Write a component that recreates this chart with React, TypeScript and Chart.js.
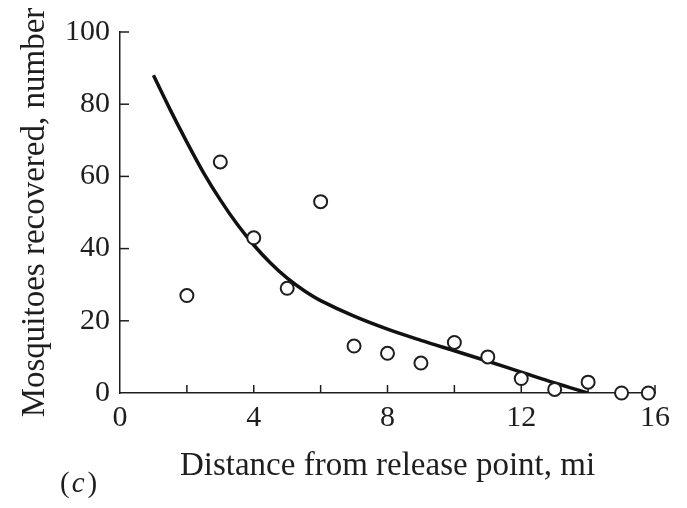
import React, { useEffect, useRef } from "react";
import { Chart, registerables } from "chart.js";

Chart.register(...registerables);

// Observed recoveries (open circles)
const obsX = [1, 2, 3, 4, 5, 6, 7, 8, 9, 10, 11, 12, 13, 14, 15, 15.8];
const obsY = [104, 27, 64, 43, 29, 53, 13, 11, 8.3, 14, 10, 4, 1, 3, 0, 0];

// Fitted curve (solid line)
const fitX = [1, 1.5, 2, 2.5, 3, 3.5, 4, 4.5, 5, 5.5, 6, 7, 8, 9, 10, 11, 12, 13, 14];
const fitY = [88, 78.5, 69.5, 61, 53.5, 46.8, 41, 36, 31.8, 28.4, 25.6, 21.3, 17.7, 14.6, 11.7, 8.8, 5.8, 2.8, 0];

const xLabelled = [0, 4, 8, 12, 16];
const yLabelled = [0, 20, 40, 60, 80, 100];
const xTitle = "Distance from release point, mi";
const yTitle = "Mosquitoes recovered, number";
const panelLetter = "c";

const SERIF = '"Liberation Serif", "Times New Roman", serif';
const INK = "#1e1e1e";

export default function App() {
  const ref = useRef<HTMLCanvasElement | null>(null);

  useEffect(() => {
    const canvas = ref.current;
    if (!canvas) return;

    const decor = {
      id: "decor",
      beforeDatasetsDraw(chart: any) {
        const { ctx, chartArea } = chart;
        const xs = chart.scales.x;
        const ys = chart.scales.y;
        ctx.save();
        ctx.strokeStyle = INK;
        ctx.lineWidth = 1.5;
        xs.ticks.forEach((t: any) => {
          if (t.value === 0) return;
          const px = xs.getPixelForValue(t.value);
          ctx.beginPath();
          ctx.moveTo(px, chartArea.bottom);
          ctx.lineTo(px, chartArea.bottom - 8);
          ctx.stroke();
        });
        ys.ticks.forEach((t: any) => {
          if (t.value === 0) return;
          const py = ys.getPixelForValue(t.value);
          ctx.beginPath();
          ctx.moveTo(chartArea.left, py);
          ctx.lineTo(chartArea.left + 9, py);
          ctx.stroke();
        });
        ctx.restore();
      },
      afterDraw(chart: any) {
        const { ctx } = chart;
        ctx.save();
        ctx.fillStyle = INK;
        ctx.textBaseline = "alphabetic";
        ctx.textAlign = "left";
        let x = 60;
        const y = 492;
        ctx.font = `29px ${SERIF}`;
        ctx.fillText("(", x, y);
        x += ctx.measureText("(").width + 2;
        ctx.font = `italic 29px ${SERIF}`;
        ctx.fillText(panelLetter, x, y);
        x += ctx.measureText(panelLetter).width + 3;
        ctx.font = `29px ${SERIF}`;
        ctx.fillText(")", x, y);
        ctx.restore();
      },
    };

    const chart = new Chart(canvas, {
      type: "scatter",
      data: {
        datasets: [
          {
            type: "line",
            label: "fit",
            data: fitX.map((x, i) => ({ x, y: fitY[i] })),
            borderColor: "#111",
            borderWidth: 3.5,
            pointRadius: 0,
            fill: false,
            tension: 0.35,
            order: 2,
          } as any,
          {
            type: "scatter",
            label: "observed",
            data: obsX.map((x, i) => ({ x, y: obsY[i] })),
            pointRadius: 6.5,
            pointBorderWidth: 2,
            pointBorderColor: INK,
            pointBackgroundColor: "#fff",
            borderColor: INK,
            backgroundColor: "#fff",
            clip: false,
            order: 1,
          } as any,
        ],
      },
      options: {
        responsive: false,
        animation: false,
        events: [],
        layout: { padding: { top: 32, right: 32, left: 0, bottom: 0 } },
        plugins: {
          legend: { display: false },
          tooltip: { enabled: false },
          title: { display: false },
        },
        scales: {
          x: {
            type: "linear",
            position: "bottom",
            min: 0,
            max: 16,
            grid: { display: false, drawTicks: false },
            border: { display: true, color: INK, width: 1.5 },
            ticks: {
              stepSize: 2,
              autoSkip: false,
              maxRotation: 0,
              padding: 7,
              color: INK,
              font: { family: SERIF, size: 30 },
              callback: (v: any) => (xLabelled.includes(Number(v)) ? String(v) : ""),
            },
            title: {
              display: true,
              text: xTitle,
              color: INK,
              font: { family: SERIF, size: 33 },
              padding: { top: 0, bottom: 22 },
            },
            afterFit: (s: any) => {
              s.height = 115;
            },
          },
          y: {
            type: "linear",
            min: 0,
            max: 100,
            grid: { display: false, drawTicks: false },
            border: { display: true, color: INK, width: 1.5 },
            ticks: {
              stepSize: 20,
              padding: 10,
              color: INK,
              font: { family: SERIF, size: 30 },
              callback: (v: any) => (yLabelled.includes(Number(v)) ? String(v) : ""),
            },
            title: {
              display: true,
              text: yTitle,
              color: INK,
              font: { family: SERIF, size: 33 },
              padding: { top: 16, bottom: 0 },
            },
            afterFit: (s: any) => {
              s.width = 120;
            },
          },
        },
      },
      plugins: [decor],
    });

    return () => chart.destroy();
  }, []);

  return (
    <div style={{ position: "absolute", left: 0, top: 0, width: 687, height: 508, background: "#fff" }}>
      <canvas ref={ref} width={687} height={508} style={{ display: "block" }} />
    </div>
  );
}
